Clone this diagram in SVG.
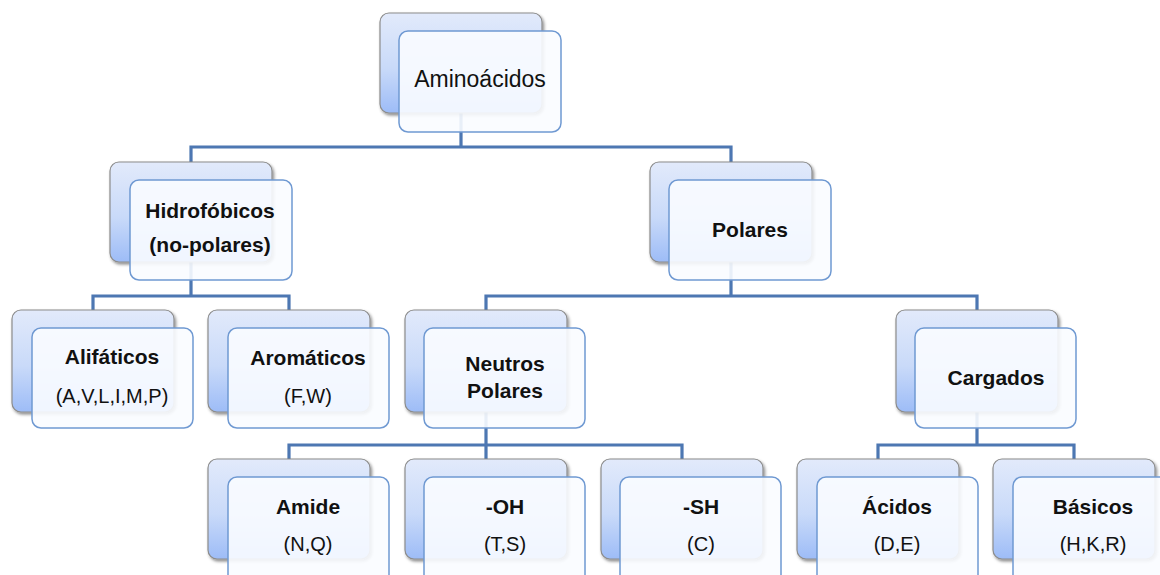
<svg xmlns="http://www.w3.org/2000/svg" width="1160" height="575" viewBox="0 0 1160 575">
<defs>
<linearGradient id="bg" x1="0" y1="0" x2="0" y2="1">
<stop offset="0" stop-color="#e2eafb"/>
<stop offset="0.55" stop-color="#c9daf9"/>
<stop offset="1" stop-color="#9dbcf7"/>
</linearGradient>
<filter id="sh" x="-10%" y="-10%" width="125%" height="130%">
<feDropShadow dx="1.5" dy="2" stdDeviation="1.5" flood-color="#000" flood-opacity="0.45"/>
</filter>
</defs>
<style>
.back{fill:url(#bg);stroke:#8c8c8c;stroke-width:1.2;filter:url(#sh)}
.front{fill:#fafcff;fill-opacity:0.9;stroke:#6f99d2;stroke-width:1.5}
.t{font-family:"Liberation Sans",Arial,sans-serif;text-anchor:middle;fill:#111}
.b{font-weight:bold;font-size:21px}
.n{font-size:20px}
.big{font-size:23px}
.c{fill:none;stroke:#4d77b2;stroke-width:3.2;stroke-linejoin:miter}
</style>
<rect width="1160" height="575" fill="#fff"/>
<g id="connectors">
<path class="c" d="M461 100V147M191 162V147H731V162"/>
<path class="c" d="M191 250V296M93 310V296H289V310"/>
<path class="c" d="M731 250V296M486 310V296H977V310"/>
<path class="c" d="M486 400V445M289 459V445H682V459M486 445V459"/>
<path class="c" d="M977 400V445M878 459V445H1074V459"/>
</g>
<g id="aminoacidos">
<rect class="back" x="380" y="13" width="162" height="100" rx="9"/>
<rect class="front" x="399" y="31" width="162" height="101" rx="9"/>
<text class="t big" x="480" y="87">Aminoácidos</text>
</g>
<g id="hidrofobicos">
<rect class="back" x="110" y="162" width="162" height="100" rx="9"/>
<rect class="front" x="130" y="180" width="162" height="100" rx="9"/>
<text class="t b" x="210" y="218">Hidrofóbicos</text>
<text class="t b" x="210" y="252">(no-polares)</text>
</g>
<g id="polares">
<rect class="back" x="650" y="162" width="162" height="100" rx="9"/>
<rect class="front" x="669" y="180" width="162" height="100" rx="9"/>
<text class="t b" x="750" y="237">Polares</text>
</g>
<g id="alifaticos">
<rect class="back" x="12" y="310" width="162" height="102" rx="9"/>
<rect class="front" x="32" y="328" width="161" height="100" rx="9"/>
<text class="t b" x="112" y="364">Alifáticos</text>
<text class="t n" x="112" y="403">(A,V,L,I,M,P)</text>
</g>
<g id="aromaticos">
<rect class="back" x="208" y="310" width="162" height="102" rx="9"/>
<rect class="front" x="228" y="328" width="161" height="100" rx="9"/>
<text class="t b" x="308" y="365">Aromáticos</text>
<text class="t n" x="308" y="403">(F,W)</text>
</g>
<g id="neutros">
<rect class="back" x="405" y="310" width="162" height="102" rx="9"/>
<rect class="front" x="424" y="328" width="161" height="100" rx="9"/>
<text class="t b" x="505" y="371">Neutros</text>
<text class="t b" x="505" y="398">Polares</text>
</g>
<g id="cargados">
<rect class="back" x="896" y="310" width="162" height="102" rx="9"/>
<rect class="front" x="915" y="328" width="161" height="100" rx="9"/>
<text class="t b" x="996" y="385">Cargados</text>
</g>
<g id="amide">
<rect class="back" x="208" y="459" width="162" height="100" rx="9"/>
<rect class="front" x="228" y="477" width="161" height="110" rx="9"/>
<text class="t b" x="308" y="514">Amide</text>
<text class="t n" x="308" y="551">(N,Q)</text>
</g>
<g id="oh">
<rect class="back" x="405" y="459" width="162" height="100" rx="9"/>
<rect class="front" x="424" y="477" width="161" height="110" rx="9"/>
<text class="t b" x="505" y="514">-OH</text>
<text class="t n" x="505" y="551">(T,S)</text>
</g>
<g id="sh">
<rect class="back" x="601" y="459" width="162" height="100" rx="9"/>
<rect class="front" x="620" y="477" width="161" height="110" rx="9"/>
<text class="t b" x="701" y="514">-SH</text>
<text class="t n" x="701" y="551">(C)</text>
</g>
<g id="acidos">
<rect class="back" x="797" y="459" width="162" height="100" rx="9"/>
<rect class="front" x="817" y="477" width="161" height="110" rx="9"/>
<text class="t b" x="897" y="514">Ácidos</text>
<text class="t n" x="897" y="551">(D,E)</text>
</g>
<g id="basicos">
<rect class="back" x="993" y="459" width="162" height="100" rx="9"/>
<rect class="front" x="1013" y="477" width="161" height="110" rx="9"/>
<text class="t b" x="1093" y="514">Básicos</text>
<text class="t n" x="1093" y="551">(H,K,R)</text>
</g>
</svg>
